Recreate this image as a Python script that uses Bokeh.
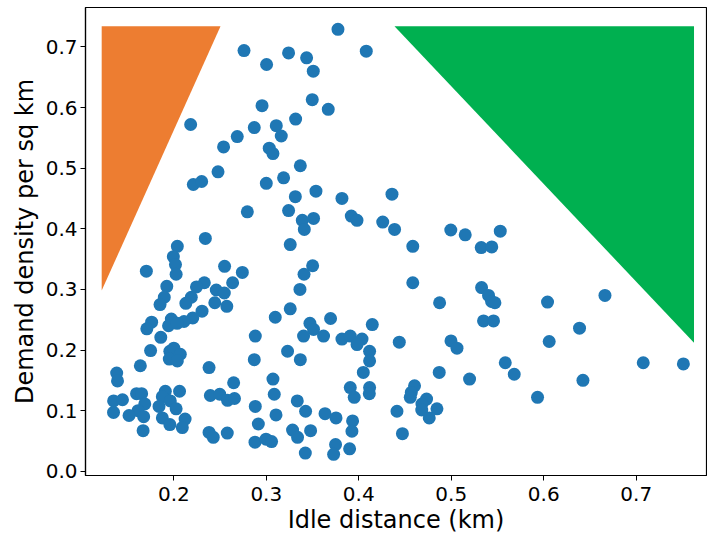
from bokeh.plotting import figure
from bokeh.models import Range1d, FixedTicker, NumeralTickFormatter
from bokeh.embed import file_html
from bokeh.resources import INLINE

# Idle distance (km) per zone
idle_km = [
    0.3775, 0.2759, 0.3003, 0.3241, 0.3436, 0.3508, 0.4081, 0.2954, 0.3497, 0.3670,
    0.2182, 0.3317, 0.2870, 0.3108, 0.3162, 0.2686, 0.2538, 0.3032, 0.3072, 0.3368,
    0.2478, 0.2211, 0.2301, 0.3000, 0.3187, 0.3537, 0.3314, 0.3818, 0.4359, 0.2795,
    0.3241, 0.3389, 0.3511, 0.3411, 0.3919, 0.3981, 0.4259, 0.4387, 0.3259, 0.4584,
    0.4995, 0.5151, 0.5530, 0.5324, 0.5438, 0.3501, 0.3408, 0.3364, 0.4584, 0.3259,
    0.3097, 0.3695, 0.3472, 0.3511, 0.4146, 0.4874, 0.5328, 0.5403, 0.5436, 0.5472,
    0.5349, 0.5457, 0.6041, 0.6662, 0.6387, 0.6059, 0.4997, 0.5062, 0.5584, 0.5681,
    0.4870, 0.5198, 0.6424, 0.5933, 0.7076, 0.7510, 0.4603, 0.4568, 0.4557, 0.4733,
    0.4683, 0.4681, 0.4845, 0.4762, 0.4413, 0.4472, 0.4438, 0.3818, 0.3908, 0.4035,
    0.3981, 0.3619, 0.3403, 0.2881, 0.4117, 0.4117, 0.4049, 0.3230, 0.3368, 0.2870,
    0.3072, 0.3086, 0.3908, 0.3951, 0.4117, 0.4114, 0.2881, 0.2914, 0.3105, 0.3335,
    0.3425, 0.3635, 0.3754, 0.3933, 0.3926, 0.3284, 0.3338, 0.3479, 0.2878, 0.2997,
    0.3057, 0.3422, 0.3749, 0.3728, 0.3901, 0.2341, 0.2038, 0.1995, 0.2018, 0.2025,
    0.1703, 0.2549, 0.2741, 0.2636, 0.1924, 0.1897, 0.1851, 0.2330, 0.2245, 0.2459,
    0.2546, 0.2189, 0.2130, 0.2443, 0.2573, 0.2305, 0.2205, 0.2110, 0.1973, 0.1943,
    0.2035, 0.1760, 0.1708, 0.1859, 0.1749, 0.1957, 0.2000, 0.2070, 0.1951, 0.2038,
    0.1638, 0.2381, 0.1382, 0.1391, 0.2647, 0.1597, 0.1652, 0.1908, 0.2062, 0.1349,
    0.1445, 0.1686, 0.1876, 0.1613, 0.1840, 0.1962, 0.2025, 0.1348, 0.1516, 0.1674,
    0.1876, 0.1957, 0.2122, 0.2092, 0.1668, 0.2395, 0.2497, 0.2581, 0.2656, 0.2381,
    0.2427, 0.2578,
]

# Demand density per sq km per zone
demand_density = [
    0.729, 0.694, 0.671, 0.690, 0.682, 0.660, 0.693, 0.603, 0.613, 0.597,
    0.572, 0.581, 0.567, 0.570, 0.553, 0.552, 0.535, 0.533, 0.524, 0.504,
    0.494, 0.473, 0.478, 0.475, 0.484, 0.462, 0.453, 0.450, 0.457, 0.428,
    0.430, 0.414, 0.417, 0.399, 0.421, 0.414, 0.411, 0.399, 0.374, 0.371,
    0.398, 0.390, 0.396, 0.369, 0.370, 0.339, 0.325, 0.300, 0.311, 0.268,
    0.254, 0.252, 0.244, 0.234, 0.242, 0.278, 0.303, 0.290, 0.280, 0.278,
    0.248, 0.248, 0.279, 0.290, 0.236, 0.214, 0.215, 0.203, 0.179, 0.160,
    0.163, 0.152, 0.150, 0.122, 0.179, 0.177, 0.141, 0.130, 0.122, 0.119,
    0.111, 0.101, 0.103, 0.088, 0.099, 0.062, 0.213, 0.218, 0.223, 0.218,
    0.209, 0.223, 0.223, 0.223, 0.198, 0.182, 0.163, 0.198, 0.184, 0.184,
    0.152, 0.127, 0.138, 0.122, 0.138, 0.128, 0.107, 0.078, 0.093, 0.116,
    0.099, 0.095, 0.088, 0.083, 0.066, 0.068, 0.056, 0.067, 0.048, 0.053,
    0.049, 0.030, 0.044, 0.028, 0.037, 0.384, 0.371, 0.354, 0.341, 0.325,
    0.330, 0.338, 0.328, 0.311, 0.305, 0.287, 0.275, 0.311, 0.304, 0.299,
    0.294, 0.287, 0.277, 0.278, 0.272, 0.264, 0.253, 0.247, 0.251, 0.240,
    0.244, 0.246, 0.235, 0.221, 0.199, 0.198, 0.203, 0.193, 0.185, 0.182,
    0.174, 0.171, 0.162, 0.149, 0.146, 0.128, 0.128, 0.132, 0.132, 0.116,
    0.118, 0.111, 0.123, 0.100, 0.107, 0.116, 0.103, 0.097, 0.092, 0.090,
    0.088, 0.077, 0.086, 0.072, 0.067, 0.125, 0.127, 0.117, 0.120, 0.064,
    0.056, 0.063,
]

# Shaded regions
orange_x = [0.122, 0.2505, 0.122]
orange_y = [0.734, 0.734, 0.298]
green_x = [0.4386, 0.7625, 0.7625]
green_y = [0.734, 0.734, 0.212]

x_ticks = [0.2, 0.3, 0.4, 0.5, 0.6, 0.7]
y_ticks = [0.0, 0.1, 0.2, 0.3, 0.4, 0.5, 0.6, 0.7]

p = figure(width=707, height=540, output_backend="svg", toolbar_location=None,
           x_range=Range1d(0.1045, 0.776), y_range=Range1d(-0.007, 0.765),
           min_border_left=85, min_border_right=1, min_border_top=7,
           min_border_bottom=65)

p.patch(orange_x, orange_y, fill_color="#ed7d31", line_color=None)
p.patch(green_x, green_y, fill_color="#00b050", line_color=None)
p.scatter(idle_km, demand_density, size=13, fill_color="#1f77b4", line_color=None)

p.xgrid.visible = False
p.ygrid.visible = False
p.outline_line_color = "black"
p.outline_line_width = 1.2

p.xaxis.ticker = FixedTicker(ticks=x_ticks)
p.yaxis.ticker = FixedTicker(ticks=y_ticks)
p.xaxis.formatter = NumeralTickFormatter(format="0.0")
p.yaxis.formatter = NumeralTickFormatter(format="0.0")

for ax in (p.xaxis, p.yaxis):
    ax.major_tick_out = 5
    ax.major_tick_in = 0
    ax.minor_tick_line_color = None
    ax.axis_line_color = "black"
    ax.axis_line_width = 1.2
    ax.major_tick_line_color = "black"
    ax.major_label_text_font = "DejaVu Sans"
    ax.major_label_text_font_size = "20px"
    ax.major_label_text_color = "black"
    ax.axis_label_text_font = "DejaVu Sans"
    ax.axis_label_text_font_size = "24px"
    ax.axis_label_text_font_style = "normal"
    ax.axis_label_text_color = "black"

p.xaxis.axis_label = "Idle distance (km)"
p.yaxis.axis_label = "Demand density per sq km"
p.xaxis.axis_label_standoff = 2
p.yaxis.axis_label_standoff = 4
p.xaxis.major_label_standoff = 6
p.yaxis.major_label_standoff = 3

open("out.html", "w").write(file_html(p, INLINE))
